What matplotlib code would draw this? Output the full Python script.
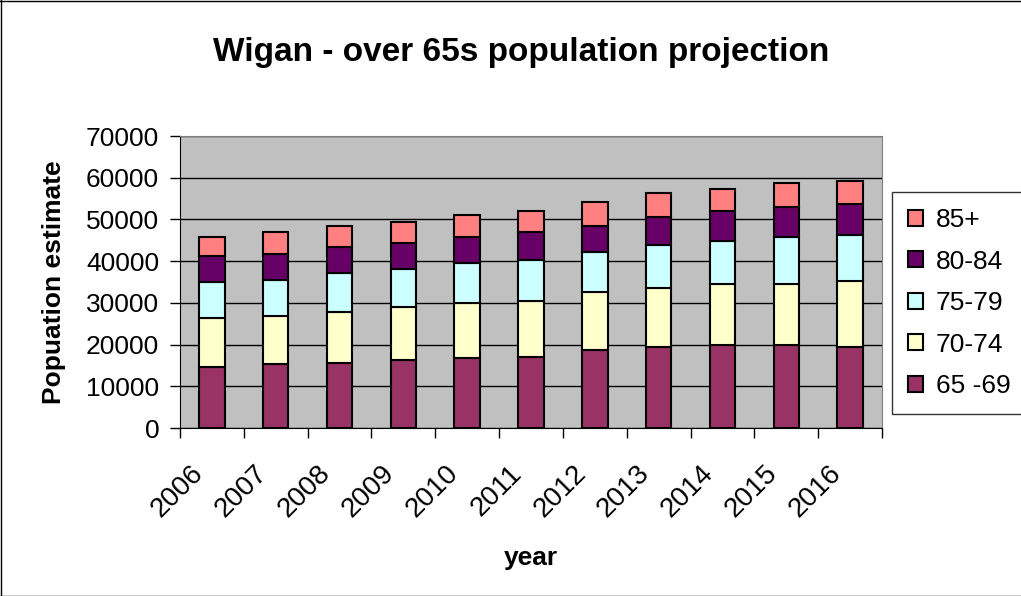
import matplotlib.pyplot as plt
import matplotlib.transforms as mtransforms
import numpy as np
from matplotlib.lines import Line2D

plt.rcParams['font.family'] = ['Liberation Sans', 'DejaVu Sans']

years = ['2006', '2007', '2008', '2009', '2010', '2011', '2012', '2013', '2014', '2015', '2016']
age_65_69 = [14700, 15260, 15660, 16300, 16860, 17100, 18700, 19340, 19900, 19900, 19340]
age_70_74 = [11750, 11670, 12230, 12790, 13190, 13350, 13820, 14300, 14700, 14700, 15900]
age_75_79 = [8630, 8550, 9190, 9110, 9590, 9820, 9750, 10230, 10230, 11270, 11030]
age_80_84 = [6150, 6310, 6230, 6230, 6230, 6640, 6240, 6630, 7270, 7190, 7350]
age_85_plus = [4640, 5200, 5120, 5030, 5110, 5190, 5590, 5760, 5120, 5670, 5670]

series = [age_65_69, age_70_74, age_75_79, age_80_84, age_85_plus]
labels = ['65 -69', '70-74', '75-79', '80-84', '85+']
colors = ['#993366', '#FFFFCC', '#CCFFFF', '#660066', '#FF8080']

W, H = 1021, 596
fig = plt.figure(figsize=(W / 100, H / 100), dpi=100)
ax = fig.add_axes([180 / W, 1 - 428 / H, 702 / W, 292 / H])
ax.set_facecolor('#C0C0C0')

x = np.arange(len(years))
bottom = np.zeros(len(years))
handles = []
for vals, lab, col in zip(series, labels, colors):
    b = ax.bar(x, vals, width=0.4, bottom=bottom, color=col, edgecolor='black',
               linewidth=1.5, label=lab, zorder=3)
    handles.append(b)
    bottom += np.array(vals)

ax.set_xlim(-0.5, len(years) - 0.5)
ax.set_ylim(0, 70000)
ax.set_yticks(np.arange(0, 70001, 10000))
ax.yaxis.grid(True, color='black', linewidth=1)
ax.set_axisbelow(True)
ax.tick_params(axis='y', labelsize=19, direction='out', length=7, width=1, pad=8)

ax.set_xticks(x)
ax.set_xticklabels(years, rotation=45, ha='right', rotation_mode='anchor', fontsize=20)
ax.tick_params(axis='x', which='major', length=0, pad=16)
ax.set_xticks(np.arange(-0.5, len(years)), minor=True)
ax.tick_params(axis='x', which='minor', direction='out', length=7, width=1)
# Excel puts the slanted year labels a little left of and below the category centre
shift = mtransforms.ScaledTranslation(-0.22, -0.10, fig.dpi_scale_trans)
for lbl in ax.get_xticklabels():
    lbl.set_transform(lbl.get_transform() + shift)

for s in ['top', 'right']:
    ax.spines[s].set_color('#808080')
for s in ['left', 'bottom']:
    ax.spines[s].set_color('black')

ax.set_ylabel('Popuation estimate', fontsize=19, fontweight='bold', labelpad=14)
ax.set_xlabel('year', fontsize=19, fontweight='bold', labelpad=17)
fig.text(521 / W, 1 - 53 / H, 'Wigan - over 65s population projection', fontsize=24,
         fontweight='bold', ha='center', va='center')

leg = fig.legend(handles[::-1], labels[::-1], loc='upper left',
                 bbox_to_anchor=(892 / W, 1 - 192 / H), fontsize=19, frameon=True,
                 fancybox=False, edgecolor='black', handlelength=0.55, handleheight=0.55,
                 labelspacing=0.66, borderpad=0.62, handletextpad=0.5, borderaxespad=0)
leg.get_frame().set_linewidth(1)

# outer chart border (right side falls outside the image)
fig.add_artist(Line2D([0.5 / W, 0.5 / W], [0, 1], transform=fig.transFigure, color='black', lw=1))
fig.add_artist(Line2D([0, 1], [1 - 0.5 / H, 1 - 0.5 / H], transform=fig.transFigure, color='black', lw=1))
fig.add_artist(Line2D([0, 1], [0.5 / H, 0.5 / H], transform=fig.transFigure, color='black', lw=1))

fig.savefig('out.png', dpi=100)
